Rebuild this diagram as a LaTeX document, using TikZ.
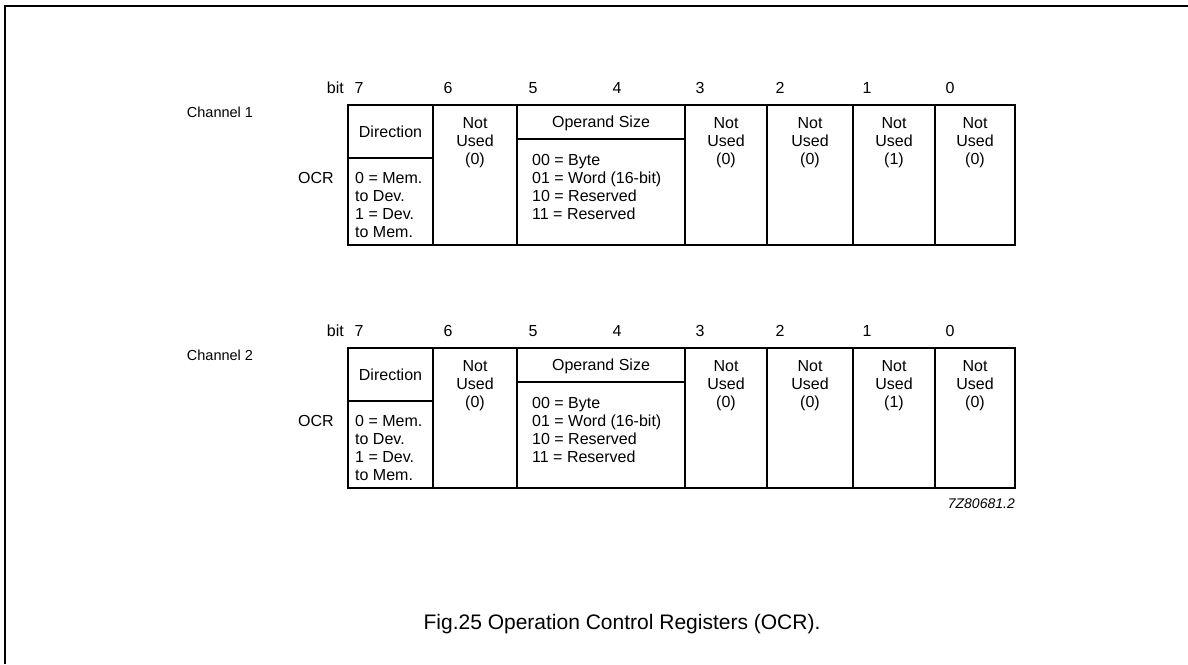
\documentclass[tikz,border=0pt]{standalone}
\usepackage{fontspec}
\setmainfont{Liberation Sans}
\begin{document}
\begin{tikzpicture}[x=1pt,y=-1pt,
  reg/.style={line width=1.8pt},
  frame/.style={line width=2pt},
  lbl/.style={inner sep=0pt, font=\fontsize{16}{18}\selectfont},
  small/.style={inner sep=0pt, font=\fontsize{14.5}{18}\selectfont},
  cellc/.style={lbl, anchor=north, align=center},
  celll/.style={lbl, anchor=north west, align=left}]
\useasboundingbox (0,0) rectangle (1188,664);
\draw[frame] (5,664) -- (5,6) -- (1188,6);
\foreach \ch/\dy in {1/0,2/243}{
\begin{scope}[shift={(0,\dy)}]
  \draw[reg] (348,105) rectangle (1015,245);
  \foreach \xx in {433,517,685,767,853,935} \draw[reg] (\xx,105) -- (\xx,245);
  \draw[reg] (348,158) -- (433,158);
  \draw[reg] (517,139) -- (685,139);
  \node[small] (ch\ch) at (220,112) {Channel \ch};
  \node[lbl] (ocr\ch) at (316,178) {OCR};
  \node[lbl, anchor=east] (bit\ch) at (344,88) {bit};
  \foreach \b/\bx in {7/359,6/448,5/533,4/617,3/700,2/780,1/867,0/950}
    \node[lbl] (b\ch-\b) at (\bx,88) {\b};
  \node[lbl] (dir\ch) at (390.5,132) {Direction};
  \node[celll] (dirv\ch) at (355,172.3) {0 = Mem.\\to Dev.\\1 = Dev.\\to Mem.};
  \node[lbl] (ops\ch) at (601,123) {Operand Size};
  \node[celll] (opsv\ch) at (532,154.3) {00 = Byte\\01 = Word (16-bit)\\10 = Reserved\\11 = Reserved};
  \node[cellc] (nu6-\ch) at (475,117.3) {Not\\Used\\(0)};
  \node[cellc] (nu3-\ch) at (726,117.3) {Not\\Used\\(0)};
  \node[cellc] (nu2-\ch) at (810,117.3) {Not\\Used\\(0)};
  \node[cellc] (nu1-\ch) at (894,117.3) {Not\\Used\\(1)};
  \node[cellc] (nu0-\ch) at (975,117.3) {Not\\Used\\(0)};
\end{scope}}
\node[inner sep=0pt, font=\fontsize{14}{16}\selectfont\itshape, anchor=east] (code) at (1015,504) {7Z80681.2};
\node[inner sep=0pt, font=\fontsize{21}{25}\selectfont] (cap) at (622,624) {Fig.25 Operation Control Registers (OCR).};
\end{tikzpicture}
\end{document}
